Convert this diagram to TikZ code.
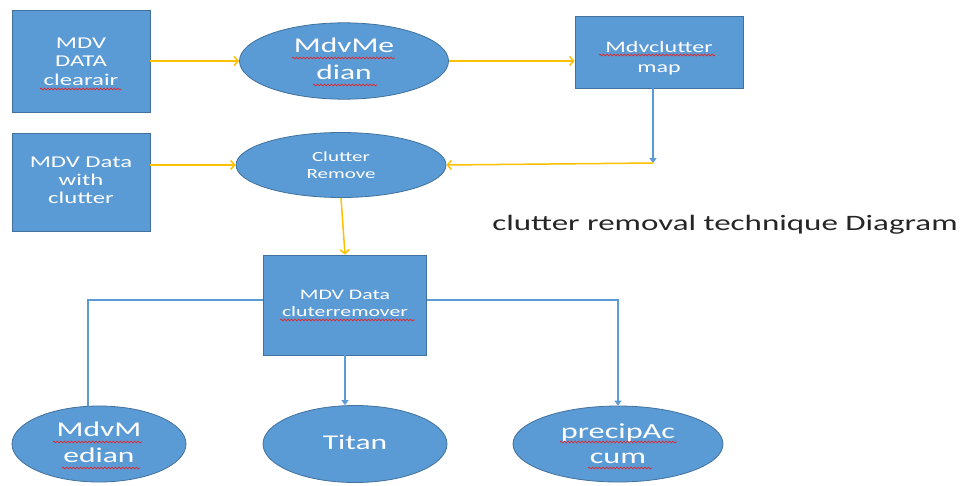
\documentclass[tikz,border=0pt]{standalone}
\usepackage{fontspec}
\setmainfont{Carlito}
\usepackage{graphicx}
\usetikzlibrary{shapes.geometric,arrows.meta,decorations.pathmorphing}

\definecolor{fillblue}{HTML}{5B9BD5}
\definecolor{edgeblue}{HTML}{41719C}
\definecolor{flowyellow}{HTML}{FFC000}
\definecolor{linkblue}{HTML}{5B9BD5}
\definecolor{spellred}{HTML}{E0282A}
\definecolor{titlegray}{HTML}{262626}

% wide text block: size, baselineskip, lines
\newcommand\wtxt[3]{\scalebox{1.5}[1]{\fontsize{#1}{#2}\selectfont\begin{tabular}{@{}c@{}}#3\end{tabular}}}
% move a text block down without changing its extent
\newcommand\sinktext[2]{\raisebox{-#1}[\height][\depth]{#2}}

\tikzset{
  blk/.style={rectangle, draw=edgeblue, fill=fillblue, line width=0.8pt,
    text=white, inner sep=0pt},
  ovl/.style={ellipse, draw=edgeblue, fill=fillblue, line width=0.8pt,
    text=white, inner sep=0pt},
  flow/.style={draw=flowyellow, line width=1.5pt,
    -{Straight Barb[length=4pt,width=9pt]}},
  link/.style={draw=linkblue, line width=1.4pt},
  linkarrow/.style={link, -{Triangle[length=5pt,width=7pt]}},
  squig/.style={draw=spellred, line width=0.7pt,
    decorate, decoration={snake, segment length=3.5pt, amplitude=0.9pt}},
}

\begin{document}
\begin{tikzpicture}[x=1pt,y=-1pt]
  \path[use as bounding box, fill=white] (0,0) rectangle (964,485);

  % input data and first stage
  \node[blk, minimum width=138pt, minimum height=102pt] (clear) at (81,61)
    {\sinktext{2pt}{\wtxt{16.5}{18.5}{MDV\\DATA\\clearair}}};
  \node[ovl, minimum width=209pt, minimum height=76pt] (median) at (344,61)
    {\wtxt{21}{27}{MdvMe\\dian}};
  \node[blk, minimum width=168pt, minimum height=72pt] (map) at (659,52)
    {\sinktext{6pt}{\wtxt{16}{20}{Mdvclutter\\map}}};

  \node[blk, minimum width=138pt, minimum height=98pt] (raw) at (81,182)
    {\wtxt{16.5}{18}{MDV Data\\with\\clutter}};
  \node[ovl, minimum width=210pt, minimum height=65pt] (remove) at (341,165)
    {\sinktext{2pt}{\wtxt{14}{17}{Clutter\\Remove}}};

  \node[blk, minimum width=163pt, minimum height=100pt] (clean) at (345,305)
    {\wtxt{14.5}{17}{MDV Data\\cluterremover}};

  % consumers
  \node[ovl, minimum width=174pt, minimum height=76pt] (mdvm) at (99,444)
    {\wtxt{21}{26}{MdvM\\edian}};
  \node[ovl, minimum width=184pt, minimum height=77pt] (titan) at (355,444)
    {\wtxt{21}{26}{Titan}};
  \node[ovl, minimum width=210pt, minimum height=76pt] (precip) at (618,444)
    {\sinktext{2pt}{\wtxt{21.5}{25}{precipAc\\cum}}};

  \node[text=titlegray, inner sep=0pt] (title) at (725,225)
    {\scalebox{1.5}[1]{\fontsize{22}{26}\selectfont clutter removal technique Diagram}};

  % spell-check marks under the unknown words
  \draw[squig] ([shift={(-41,28)}]clear.center)  -- ++(81,0);
  \draw[squig] ([shift={(-52,-3)}]median.center) -- ++(103,0);
  \draw[squig] ([shift={(-31,24)}]median.center) -- ++(64,0);
  \draw[squig] ([shift={(-60,3)}]map.center)     -- ++(116,0);
  \draw[squig] ([shift={(-65,15)}]clean.center)  -- ++(135,0);
  \draw[squig] ([shift={(-46,-2)}]mdvm.center)   -- ++(89,0);
  \draw[squig] ([shift={(-37,24)}]mdvm.center)   -- ++(78,0);
  \draw[squig] ([shift={(-58,-2)}]precip.center) -- ++(117,0);
  \draw[squig] ([shift={(-30,24)}]precip.center) -- ++(64,0);

  % junction points
  \coordinate (mapfoot) at (653,163);
  \coordinate (splitL) at (88,300);
  \coordinate (splitR) at (618,300);

  % yellow data flow
  \draw[flow] (clear.east |- median) -- (median.west);
  \draw[flow] (median.east) -- (median.east -| map.west);
  \draw[linkarrow] (map.south -| mapfoot) -- (mapfoot);
  \draw[flow] (mapfoot) -- (remove.east);
  \draw[flow] (raw.east |- remove) -- (remove.west);
  \draw[flow] (remove.south) -- (clean.north);

  % blue distribution lines
  \draw[link] (clean.west |- splitL) -- (splitL) -- (splitL |- mdvm.north);
  \draw[linkarrow] (clean.south) -- (clean.south |- titan.north);
  \draw[linkarrow] (clean.east |- splitR) -- (splitR) -- (splitR |- precip.north);
\end{tikzpicture}
\end{document}
